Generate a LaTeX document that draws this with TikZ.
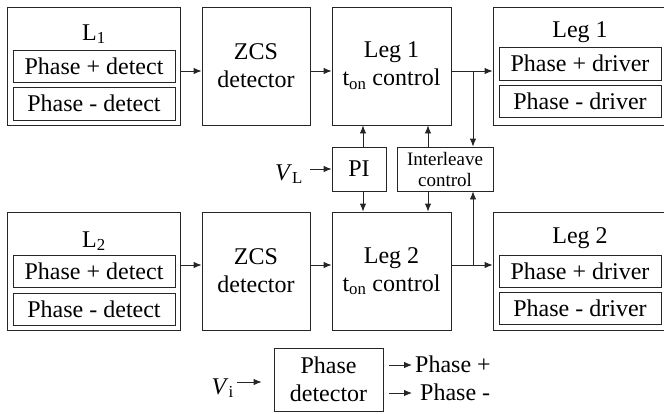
\documentclass[tikz,border=0pt]{standalone}
\usepackage{fontspec}
\setmainfont{Liberation Serif}
\usetikzlibrary{arrows.meta}
\begin{document}
\begin{tikzpicture}[x=1pt,y=-1pt,
  every node/.style={font=\fontsize{24}{28}\selectfont, inner sep=0pt},
  blk/.style={draw=black!85, line width=0.85pt, inner sep=0pt, align=center},
  arr/.style={-{Latex[length=8pt,width=6.5pt]}, line width=0.85pt, draw=black!85},
  lbl/.style={anchor=base}]
\useasboundingbox (0,0) rectangle (664,413);
\clip (0,0) rectangle (664,413);
% top row
\node[blk, minimum width=173pt, minimum height=118pt] (L1) at (93.5,66) {};
\node[lbl] (L1t) at (94,40) {L\textsubscript{1}};
\node[blk, minimum width=162pt, minimum height=32pt] (L1p) at (94,66) {Phase + detect};
\node[blk, minimum width=162pt, minimum height=33pt] (L1m) at (94,103.5) {Phase - detect};
\node[blk, minimum width=108pt, minimum height=118pt] (Z1) at (256,66) {ZCS\\detector};
\node[blk, minimum width=119pt, minimum height=118pt] (T1) at (391.5,66) {Leg 1\\t\textsubscript{on} control};
\node[blk, minimum width=180pt, minimum height=118pt] (D1) at (583,66) {};
\node[lbl] (D1t) at (580,37) {Leg 1};
\node[blk, minimum width=162pt, minimum height=33pt] (D1p) at (580,63.5) {Phase + driver};
\node[blk, minimum width=162pt, minimum height=32pt] (D1m) at (580,101) {Phase - driver};
% bottom row
\node[blk, minimum width=173pt, minimum height=118pt] (L2) at (93.5,271) {};
\node[lbl] (L2t) at (94,247) {L\textsubscript{2}};
\node[blk, minimum width=162pt, minimum height=32pt] (L2p) at (94,271) {Phase + detect};
\node[blk, minimum width=162pt, minimum height=32pt] (L2m) at (94,309) {Phase - detect};
\node[blk, minimum width=108pt, minimum height=118pt] (Z2) at (256,271) {ZCS\\detector};
\node[blk, minimum width=119pt, minimum height=118pt] (T2) at (391.5,271) {Leg 2\\t\textsubscript{on} control};
\node[blk, minimum width=180pt, minimum height=118pt] (D2) at (583,271) {};
\node[lbl] (D2t) at (580,243) {Leg 2};
\node[blk, minimum width=162pt, minimum height=32pt] (D2p) at (580,271) {Phase + driver};
\node[blk, minimum width=162pt, minimum height=32pt] (D2m) at (580,308) {Phase - driver};
% middle
\node[blk, minimum width=54pt, minimum height=44pt] (PI) at (359,169) {PI};
\node[blk, minimum width=96pt, minimum height=44pt, font=\fontsize{19}{21}\selectfont] (IL) at (445,169) {Interleave\\control};
\node[anchor=base east] (VL) at (303,180) {\textit{V}\textsubscript{L}};
% phase detector
\node[blk, minimum width=109pt, minimum height=63pt] (PD) at (328.5,379.5) {Phase\\detector};
\node[anchor=base east] (Vi) at (234,394) {\textit{V}\textsubscript{i}};
\node[anchor=base west] (Pp) at (415,372) {Phase +};
\node[anchor=base west] (Pm) at (420,400) {Phase -};
% connectors top
\draw[arr] (L1.east |- 0,71) -- (Z1.west |- 0,71);
\draw[arr] (Z1.east |- 0,71) -- (T1.west |- 0,71);
\draw[arr] (T1.east |- 0,71) -- (D1.west |- 0,71);
\coordinate (br1) at (473,71);
\draw[arr] (br1) -- (br1 |- IL.north);
% connectors bottom
\draw[arr] (L2.east |- 0,265) -- (Z2.west |- 0,265);
\draw[arr] (Z2.east |- 0,265) -- (T2.west |- 0,265);
\draw[arr] (T2.east |- 0,265) -- (D2.west |- 0,265);
\coordinate (br2) at (473,265);
\draw[arr] (br2) -- (br2 |- IL.south);
% PI and interleave
\draw[arr] (PI.north -| 363,0) -- (T1.south -| 363,0);
\draw[arr] (PI.south -| 363,0) -- (T2.north -| 363,0);
\draw[arr] (IL.north -| 428,0) -- (T1.south -| 428,0);
\draw[arr] (IL.south -| 428,0) -- (T2.north -| 428,0);
\draw[arr, shorten <=7pt] (VL.east |- PI.west) -- (PI.west);
% phase detector arrows
\draw[arr, shorten <=3pt, shorten >=12pt] (Vi.east |- 0,382) -- (PD.west |- 0,382);
\draw[arr, shorten <=6pt, shorten >=3pt] (PD.east |- 0,365) -- (Pp.west |- 0,365);
\draw[arr, shorten <=6pt, shorten >=8pt] (PD.east |- 0,393) -- (Pm.west |- 0,393);
\end{tikzpicture}
\end{document}
